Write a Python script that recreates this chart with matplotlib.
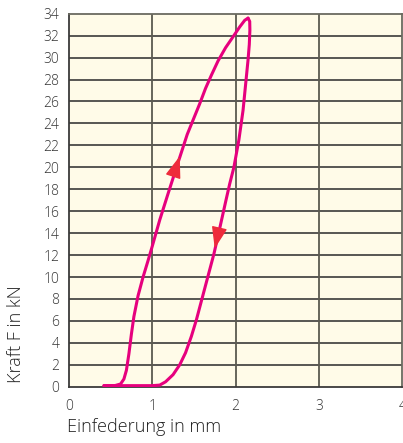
import matplotlib
matplotlib.use('Agg')
import matplotlib.pyplot as plt

plt.rcParams['font.family'] = ['Open Sans', 'DejaVu Sans']

# loading curve (upwards)
load_x = [0.42, 0.55, 0.62, 0.66, 0.69, 0.72, 0.75, 0.78, 0.83, 0.89, 0.95, 1.00, 1.09, 1.19, 1.30,
          1.42, 1.57, 1.64, 1.71, 1.79, 1.88, 1.97, 2.05, 2.11, 2.15]
load_y = [0.1, 0.1, 0.25, 0.7, 1.5, 3.0, 4.8, 6.4, 8.3, 10.0, 11.5, 12.8, 15.2, 17.6, 20.2,
          23.0, 25.8, 27.2, 28.4, 29.7, 30.9, 31.9, 32.8, 33.4, 33.6]
# unloading curve (downwards)
unload_x = [2.15, 2.17, 2.172, 2.165, 2.15, 2.12, 2.09, 2.04, 1.98, 1.93, 1.885, 1.80, 1.74, 1.67,
            1.60, 1.53, 1.47, 1.40, 1.33, 1.25, 1.16, 1.09, 1.00, 0.42]
unload_y = [33.6, 33.3, 32.5, 31.2, 29.8, 27.5, 25.2, 22.5, 20.0, 18.5, 17.0, 14.1, 12.1, 10.1,
            8.1, 6.1, 4.6, 3.1, 2.0, 1.1, 0.45, 0.15, 0.1, 0.1]

arrow_up = (1.33, 21.0)
arrow_down = (1.75, 12.6)

xticks = [0, 1, 2, 3, 4]
yticks = list(range(0, 35, 2))

curve_col = '#E6007E'
arrow_col = '#EE2B3B'

fig = plt.figure(figsize=(4.03, 4.43), dpi=100)
ax = fig.add_axes([0.171, 0.127, 0.827, 0.842])
ax.set_facecolor('#FFFBE8')

ax.set_xlim(0, 4)
ax.set_ylim(0, 34)
ax.set_xticks(xticks)
ax.set_yticks(yticks)
ax.tick_params(length=0, labelsize=10, labelcolor='#333333')
ax.tick_params(axis='x', pad=9)
ax.tick_params(axis='y', pad=7)
for lab in ax.get_xticklabels() + ax.get_yticklabels():
    lab.set_fontweight('light')

for y in yticks[1:-1]:
    ax.axhline(y, color='#2a2a2a', lw=1.1, zorder=1)
for x in xticks[1:-1]:
    ax.axvline(x, color='#5a5a50', lw=1.3, zorder=1)
for s in ax.spines.values():
    s.set_color('#6a6a60')
    s.set_linewidth(1.3)
ax.spines['left'].set_color('#3a3a3a')
ax.spines['bottom'].set_color('#3a3a3a')

ax.plot(load_x, load_y, color=curve_col, lw=2.2, zorder=3, solid_capstyle='round', solid_joinstyle='round')
ax.plot(unload_x, unload_y, color=curve_col, lw=2.2, zorder=3, solid_capstyle='round', solid_joinstyle='round')

astyle = '-|>,head_length=0.75,head_width=0.27'
ax.annotate('', xy=arrow_up, xytext=(arrow_up[0] - 0.065, arrow_up[1] - 1.5),
            arrowprops=dict(arrowstyle=astyle, color=arrow_col, lw=1, mutation_scale=18,
                            shrinkA=0, shrinkB=0), zorder=4)
ax.annotate('', xy=arrow_down, xytext=(arrow_down[0] + 0.045, arrow_down[1] + 1.5),
            arrowprops=dict(arrowstyle=astyle, color=arrow_col, lw=1, mutation_scale=18,
                            shrinkA=0, shrinkB=0), zorder=4)

fig.text(0.166, 0.015, 'Einfederung in mm', fontsize=13, color='#222222', ha='left', va='bottom',
         fontweight='light')
fig.text(0.04, 0.135, 'Kraft F in kN', fontsize=13, color='#222222', rotation=90, ha='center', va='bottom',
         fontweight='light')

fig.savefig('out.png', dpi=100)
